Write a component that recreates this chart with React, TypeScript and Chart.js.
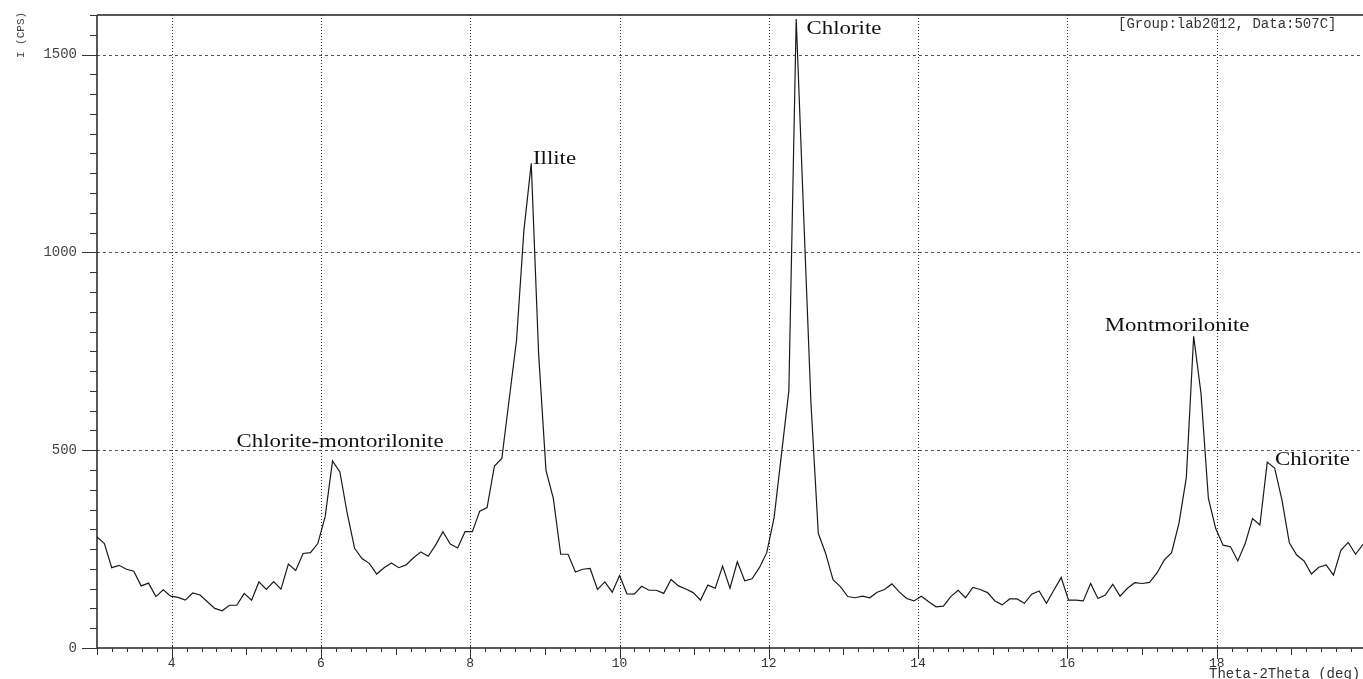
import React, { useEffect, useRef } from "react";
import { Chart, registerables } from "chart.js";

Chart.register(...registerables);

// ---- data ----
const SCAN_START = 3.0; // deg 2θ of first step
const SCAN_STEP = 0.0986; // deg per step
const intensity = [
  281, 264, 203, 209, 199, 194, 157, 164, 130, 147,
  131, 128, 121, 139, 134, 117, 100, 94, 108, 108,
  138, 121, 167, 148, 168, 149, 212, 196, 239, 241,
  264, 332, 473, 445, 340, 252, 226, 214, 187, 203,
  215, 203, 210, 228, 243, 232, 260, 294, 263, 253,
  294, 294, 346, 355, 460, 479, 628, 778, 1055, 1225,
  744, 449, 378, 237, 237, 192, 199, 201, 148, 167,
  141, 183, 137, 136, 156, 146, 146, 138, 173, 157,
  149, 140, 121, 159, 151, 207, 151, 218, 170, 175,
  203, 241, 330, 490, 650, 1590, 1100, 620, 290, 239,
  173, 155, 130, 127, 131, 127, 141, 148, 162, 142,
  125, 119, 131, 117, 104, 106, 130, 146, 127, 153,
  148, 140, 119, 109, 124, 124, 113, 136, 144, 113,
  146, 178, 121, 121, 119, 163, 125, 134, 161, 131,
  151, 165, 163, 166, 189, 222, 241, 315, 430, 788,
  643, 378, 302, 260, 256, 220, 264, 327, 311, 470,
  455, 374, 266, 235, 220, 187, 204, 210, 184, 247,
  267, 237, 262,
];
const twoTheta = intensity.map((_, i) => SCAN_START + i * SCAN_STEP);

const xTickValues = [4, 6, 8, 10, 12, 14, 16, 18];
const yTickValues = [0, 500, 1000, 1500];

const peakNames = ["Chlorite-montorilonite", "Illite", "Chlorite", "Montmorilonite", "Chlorite"];
const peakLabelAt = [
  [4.87, 508],
  [8.84, 1223],
  [12.505, 1552],
  [16.5, 801],
  [18.78, 463],
];

const headerText = "[Group:lab2012, Data:507C]";
const xTitle = "Theta-2Theta (deg)";
const yTitle = "I (CPS)";

const X_MIN = 3;
const X_MAX = 19.96;
const Y_MIN = 0;
const Y_MAX = 1600;

const MONO = "'Liberation Mono', 'DejaVu Sans Mono', monospace";
const SERIF = "'Liberation Serif', 'DejaVu Serif', serif";

const framePlugin = {
  id: "xrdFrame",
  beforeDatasetsDraw(chart: any) {
    const { ctx, chartArea: a, scales } = chart;
    const x = scales.x;
    const y = scales.y;
    const W = chart.width;
    ctx.save();
    // vertical dotted grid
    ctx.lineWidth = 1;
    ctx.strokeStyle = "#333";
    ctx.setLineDash([1, 2]);
    for (const v of xTickValues) {
      const px = Math.round(x.getPixelForValue(v)) + 0.5;
      ctx.beginPath();
      ctx.moveTo(px, a.top);
      ctx.lineTo(px, a.bottom);
      ctx.stroke();
    }
    // horizontal dashed grid
    ctx.strokeStyle = "#555";
    ctx.setLineDash([3, 3]);
    for (const v of yTickValues) {
      if (v === 0) continue;
      const py = Math.round(y.getPixelForValue(v)) + 0.5;
      ctx.beginPath();
      ctx.moveTo(a.left, py);
      ctx.lineTo(W, py);
      ctx.stroke();
    }
    ctx.setLineDash([]);
    // frame
    ctx.strokeStyle = "#222";
    ctx.lineWidth = 1.5;
    ctx.beginPath();
    ctx.moveTo(a.left, a.top);
    ctx.lineTo(W, a.top);
    ctx.moveTo(a.left, a.top);
    ctx.lineTo(a.left, a.bottom);
    ctx.lineTo(W, a.bottom);
    ctx.stroke();
    // tick marks
    ctx.lineWidth = 1;
    ctx.strokeStyle = "#333";
    ctx.beginPath();
    for (let k = 15; k <= 99; k++) {
      const v = k / 5;
      const px = Math.round(x.getPixelForValue(v)) + 0.5;
      let len = 4;
      let up = 0;
      if (k % 10 === 0) {
        len = 11;
        up = 3;
      } else if (k % 5 === 0) {
        len = 7;
      }
      ctx.moveTo(px, a.bottom - up);
      ctx.lineTo(px, a.bottom + len);
    }
    for (let v = 0; v <= 1600; v += 50) {
      const py = Math.round(y.getPixelForValue(v)) + 0.5;
      const len = v % 500 === 0 ? 15 : 7;
      ctx.moveTo(a.left - len, py);
      ctx.lineTo(a.left, py);
    }
    ctx.stroke();
    ctx.restore();
  },
  afterDraw(chart: any) {
    const { ctx, scales } = chart;
    const x = scales.x;
    const y = scales.y;
    ctx.save();
    // peak labels (serif, horizontally stretched like the scan)
    ctx.fillStyle = "#111";
    ctx.font = `18px ${SERIF}`;
    ctx.textAlign = "left";
    ctx.textBaseline = "alphabetic";
    peakNames.forEach((name, i) => {
      const px = x.getPixelForValue(peakLabelAt[i][0]);
      const py = y.getPixelForValue(peakLabelAt[i][1]);
      ctx.save();
      ctx.translate(px, py);
      ctx.scale(1.27, 1);
      ctx.fillText(name, 0, 0);
      ctx.restore();
    });
    // header and axis titles
    ctx.fillStyle = "#333";
    ctx.font = `14px ${MONO}`;
    ctx.fillText(headerText, 1118, 28);
    ctx.fillText(xTitle, 1209, 678);
    ctx.save();
    ctx.font = `11px ${MONO}`;
    ctx.fillStyle = "#444";
    ctx.translate(24, 35);
    ctx.rotate(-Math.PI / 2);
    ctx.textAlign = "center";
    ctx.fillText(yTitle, 0, 0);
    ctx.restore();
    ctx.restore();
  },
};

export default function App() {
  const ref = useRef<HTMLCanvasElement>(null);
  useEffect(() => {
    document.body.style.margin = "0";
    const canvas = ref.current;
    if (!canvas) return;
    const chart = new Chart(canvas, {
      type: "line",
      data: {
        datasets: [
          {
            data: twoTheta.map((t, i) => ({ x: t, y: intensity[i] })),
            borderColor: "#1a1a1a",
            borderWidth: 1.2,
            pointRadius: 0,
            tension: 0,
            fill: false,
          },
        ],
      },
      options: {
        responsive: false,
        devicePixelRatio: 1,
        animation: false,
        layout: { padding: { top: 15, left: 0, right: 0, bottom: 0 } },
        plugins: {
          legend: { display: false },
          tooltip: { enabled: false },
        },
        scales: {
          x: {
            type: "linear",
            min: X_MIN,
            max: X_MAX,
            afterBuildTicks: (scale: any) => {
              scale.ticks = xTickValues.map((v) => ({ value: v }));
            },
            afterFit: (scale: any) => {
              scale.height = 31;
              scale.paddingLeft = 0;
              scale.paddingRight = 0;
              scale.paddingTop = 0;
              scale.paddingBottom = 0;
            },
            grid: { display: false, drawTicks: false },
            border: { display: false },
            ticks: {
              autoSkip: false,
              maxRotation: 0,
              padding: 8,
              color: "#333",
              font: { family: MONO, size: 13 },
              callback: (v: any) => String(v),
            },
          },
          y: {
            type: "linear",
            min: Y_MIN,
            max: Y_MAX,
            afterBuildTicks: (scale: any) => {
              scale.ticks = yTickValues.map((v) => ({ value: v }));
            },
            afterFit: (scale: any) => {
              scale.width = 97;
              scale.paddingLeft = 0;
              scale.paddingRight = 0;
              scale.paddingTop = 0;
              scale.paddingBottom = 0;
            },
            grid: { display: false, drawTicks: false },
            border: { display: false },
            ticks: {
              autoSkip: false,
              padding: 20,
              color: "#444",
              font: { family: MONO, size: 14 },
              callback: (v: any) => String(v),
            },
          },
        },
      },
      plugins: [framePlugin],
    });
    return () => chart.destroy();
  }, []);
  return (
    <div style={{ width: 1363, height: 679 }}>
      <canvas ref={ref} width={1363} height={679} style={{ display: "block" }} />
    </div>
  );
}
